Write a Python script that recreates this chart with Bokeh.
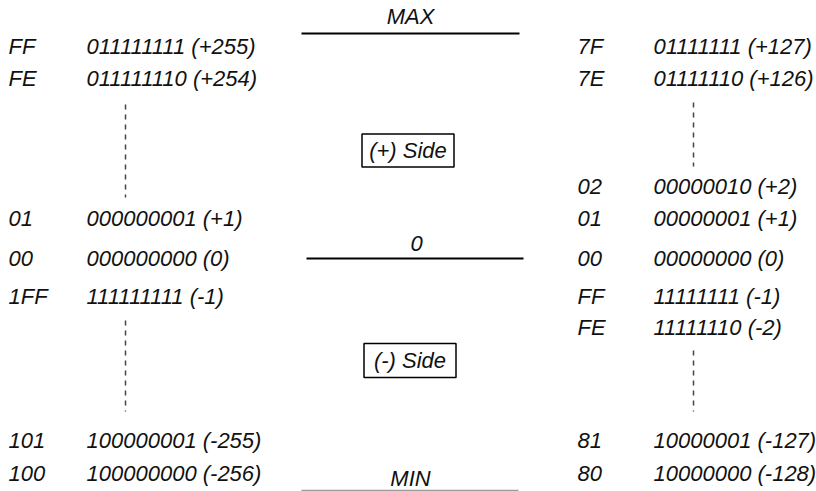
from bokeh.plotting import figure
from bokeh.models import Range1d
from bokeh.core.properties import value
from bokeh.embed import file_html
from bokeh.resources import INLINE

# ---- data (diagram content) ----
left_hex = ["FF", "FE", "01", "00", "1FF", "101", "100"]
left_bin = ["011111111 (+255)", "011111110 (+254)", "000000001 (+1)",
            "000000000 (0)", "111111111 (-1)", "100000001 (-255)",
            "100000000 (-256)"]
left_rows = [46, 78, 218, 258, 296, 440, 473]

right_hex = ["7F", "7E", "02", "01", "00", "FF", "FE", "81", "80"]
right_bin = ["01111111 (+127)", "01111110 (+126)", "00000010 (+2)",
             "00000001 (+1)", "00000000 (0)", "11111111 (-1)",
             "11111110 (-2)", "10000001 (-127)", "10000000 (-128)"]
right_rows = [46, 78, 186, 218, 258, 296, 327, 440, 473]

center_labels = ["MAX", "0", "MIN"]
center_label_x = [410, 416, 410]
center_label_y = [16, 243, 478]

level_x0 = [301, 306, 301]
level_x1 = [519, 523, 518]
level_y = [33, 258, 490]
level_color = ["black", "black", "#9a9a9a"]
level_width = [2, 2, 1.5]

side_labels = ["(+) Side", "(-) Side"]
side_x = [407.5, 409.5]
side_y = [150, 360]
side_w = [92, 92]
side_h = [33, 34]

dash_x = [125, 125, 693, 693]
dash_y0 = [104, 320, 102, 350]
dash_y1 = [197, 411, 166, 411]

FONT = value("Liberation Sans")
SIZE = value("22px")

p = figure(width=816, height=491, output_backend="svg", toolbar_location=None,
           x_range=Range1d(0, 816), y_range=Range1d(491, 0),
           x_axis_location=None, y_axis_location=None, min_border=0,
           outline_line_color=None, background_fill_color="white",
           border_fill_color="white")
p.grid.visible = False

# dashed continuation markers
p.segment(x0=dash_x, y0=dash_y0, x1=dash_x, y1=dash_y1,
          line_color="#444444", line_width=1.5, line_dash="5 5")

# level lines
p.segment(x0=level_x0, y0=level_y, x1=level_x1, y1=level_y,
          line_color=level_color, line_width=level_width)

# side boxes
p.rect(x=side_x, y=side_y, width=side_w, height=side_h,
       fill_color="white", line_color="black", line_width=1.5)

common = dict(text_font=FONT, text_font_size=SIZE, text_font_style="italic",
              text_color="#111111", text_baseline="middle")

p.text(x=[8] * len(left_hex), y=left_rows, text=left_hex, text_align="left", **common)
p.text(x=[86] * len(left_bin), y=left_rows, text=left_bin, text_align="left", **common)
p.text(x=[577] * len(right_hex), y=right_rows, text=right_hex, text_align="left", **common)
p.text(x=[653] * len(right_bin), y=right_rows, text=right_bin, text_align="left", **common)

p.text(x=center_label_x, y=center_label_y, text=center_labels, text_align="center", **common)
p.text(x=side_x, y=side_y, text=side_labels, text_align="center", **common)

open("out.html", "w").write(file_html(p, INLINE))
